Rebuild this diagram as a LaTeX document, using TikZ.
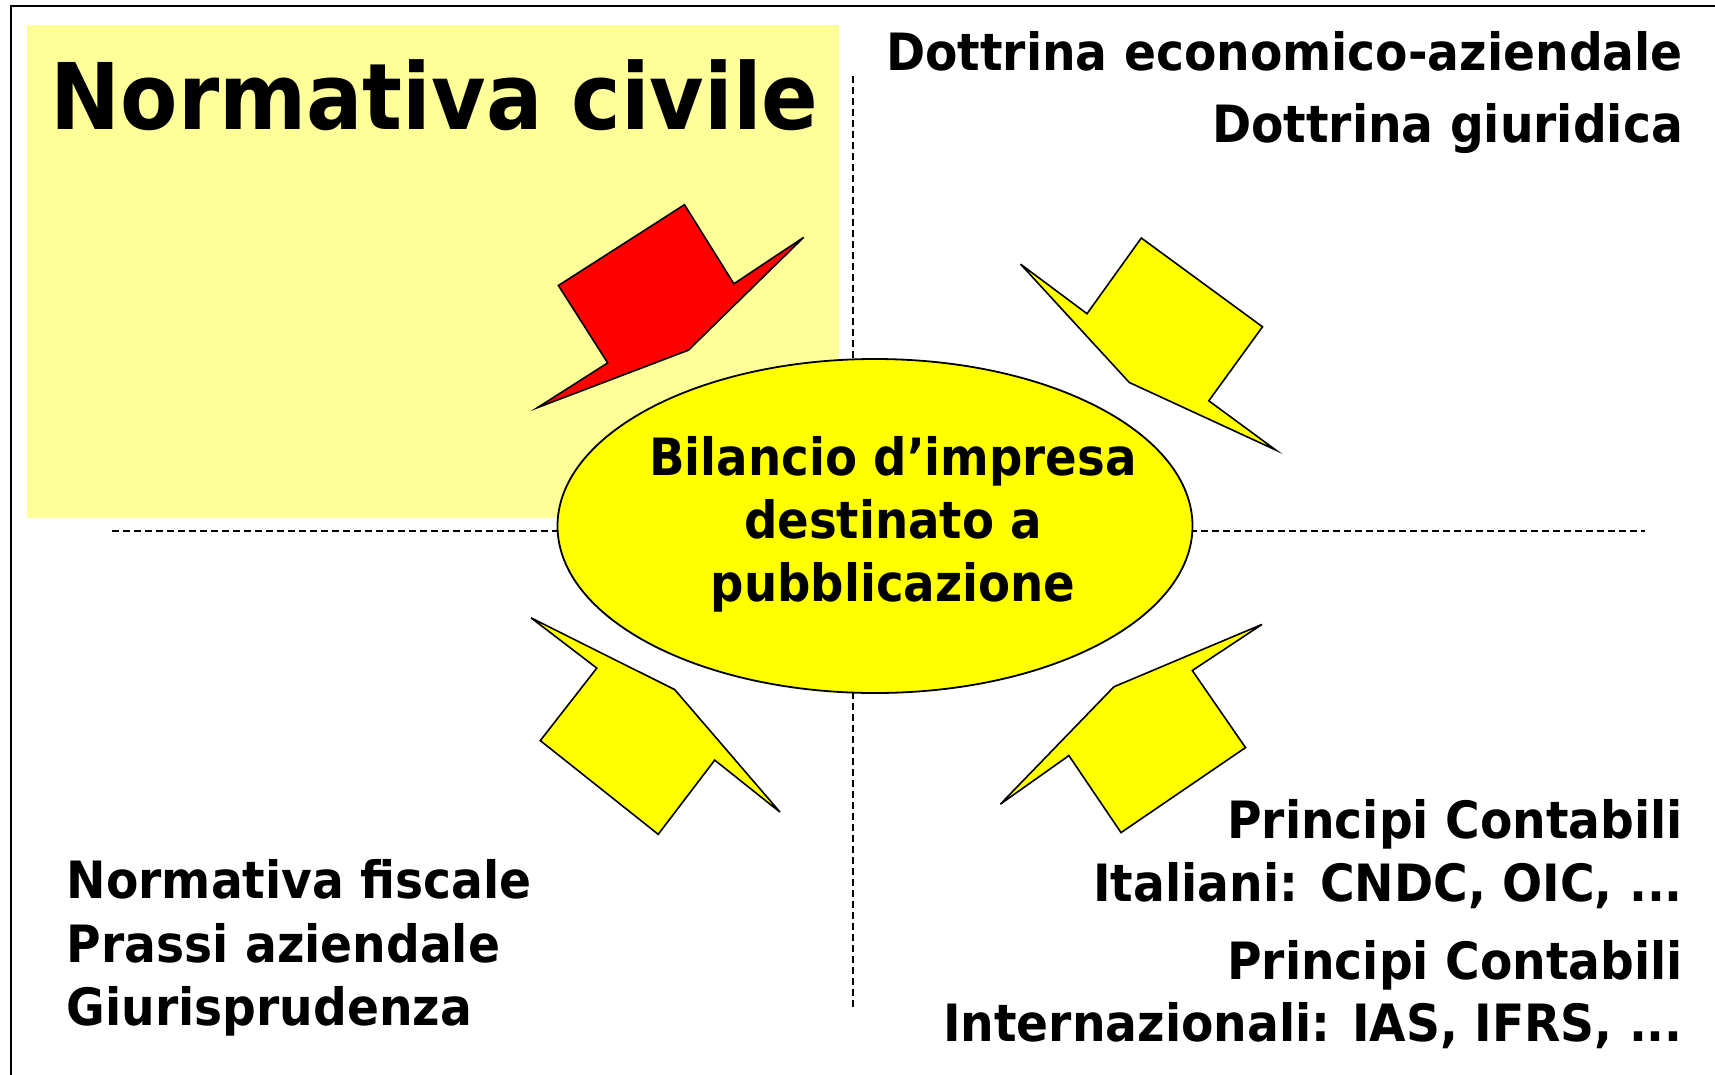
\documentclass[tikz,border=0pt]{standalone}
\usepackage{fontspec}
\newfontfamily\tf{DejaVu Sans}[FakeStretch=0.918]
\newfontfamily\tftitle{DejaVu Sans}[FakeStretch=0.909]
\newfontfamily\tfcenter{DejaVu Sans}[FakeStretch=0.908]
\usetikzlibrary{shapes.geometric}
\definecolor{paleyellow}{HTML}{FFFF99}
\definecolor{brightyellow}{HTML}{FFFF00}
\definecolor{brightred}{HTML}{FF0000}
\begin{document}
\begin{tikzpicture}[x=1pt,y=-1pt,
  lbl/.style={inner sep=0pt, font=\tf\bfseries\fontsize{51.4}{62}\selectfont},
  centerlbl/.style={inner sep=0pt, font=\tfcenter\bfseries\fontsize{51.4}{62}\selectfont},
  bigtitle/.style={inner sep=0pt, font=\tftitle\bfseries\fontsize{92}{100}\selectfont},
  bentarrow/.style={draw=black, line width=1.6pt, line join=miter},
  divider/.style={draw=black, line width=1.2pt, dash pattern=on 7pt off 4pt}]
\useasboundingbox (0,0) rectangle (1715,1074);
\clip (0,0) rectangle (1715,1074);
\fill[white] (0,0) rectangle (1715,1074);
% frame (partly outside the page)
\draw[line width=2pt] (11,6) rectangle (1760,1120);
% highlighted quadrant
\fill[paleyellow] (27,25) rectangle (839,518);
% dividers
\coordinate (hl) at (112,531);
\coordinate (hr) at (1645,531);
\coordinate (vt) at (853,76);
\coordinate (vb) at (853,1008);
\draw[divider] (hl) -- (hr);
\draw[divider] (vt) -- (vb);
% arrows
\draw[bentarrow, fill=brightred] (537.5,407.6) -- (607.7,362.9) -- (558.4,285.5) -- (684.5,204.7) -- (733.9,283.8) -- (803.6,237.4) -- (688.4,350.2) -- cycle;
\draw[bentarrow, fill=brightyellow] (1020.6,264.2) -- (1087,313.7) -- (1141.3,238) -- (1262.5,326.8) -- (1208.8,400.8) -- (1275.7,450) -- (1129.3,382.5) -- cycle;
\draw[bentarrow, fill=brightyellow] (531,617.8) -- (596.8,668.1) -- (540.3,740.6) -- (658.2,834.3) -- (714.7,760.1) -- (780,812.1) -- (674.7,689.6) -- cycle;
\draw[bentarrow, fill=brightyellow] (1262,624.4) -- (1192.3,670.5) -- (1245.5,747.6) -- (1121,832.6) -- (1068.9,755.6) -- (1000.4,804.1) -- (1113.9,686.8) -- cycle;
% central ellipse
\node[ellipse, draw=black, line width=1.8pt, fill=brightyellow, minimum width=635pt, minimum height=334pt, inner sep=0pt] (bil) at (875,526) {};
\node[centerlbl, anchor=base] (b1) at (893,475) {Bilancio d’impresa};
\node[centerlbl, anchor=base] (b2) at (893,538) {destinato a};
\node[centerlbl, anchor=base] (b3) at (893,601.5) {pubblicazione};
% texts
\node[bigtitle, anchor=base west] (nc) at (50.5,129) {Normativa civile};
\node[lbl, anchor=base east] (d1) at (1683,70.5) {Dottrina economico-aziendale};
\node[lbl, anchor=base east] (d2) at (1683,142.8) {Dottrina giuridica};
\node[lbl, anchor=base west] (f1) at (66.5,898.5) {Normativa fiscale};
\node[lbl, anchor=base west] (f2) at (66.5,962) {Prassi aziendale};
\node[lbl, anchor=base west] (f3) at (66.5,1025.5) {Giurisprudenza};
\node[lbl, anchor=base east] (p1) at (1683,838.8) {Principi Contabili};
\node[lbl, anchor=base east] (p2) at (1683,901.3) {Italiani: CNDC, OIC, ...};
\node[lbl, anchor=base east] (p3) at (1683,979.4) {Principi Contabili};
\node[lbl, anchor=base east] (p4) at (1683,1041.8) {Internazionali: IAS, IFRS, ...};
\end{tikzpicture}
\end{document}
